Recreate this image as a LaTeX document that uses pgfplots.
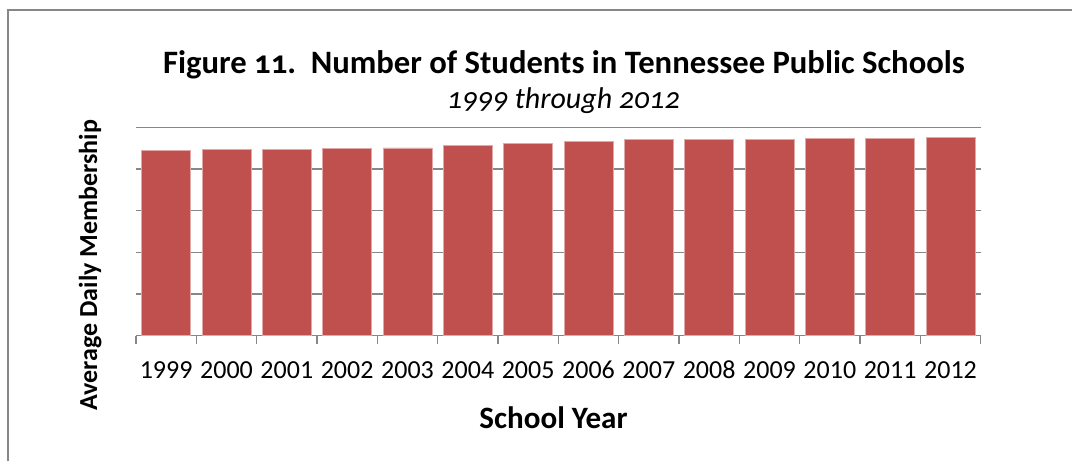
\documentclass[border=0pt]{standalone}
\usepackage{pgfplots}
\pgfplotsset{compat=1.18}
\usepackage{fontspec}
\setmainfont{Carlito}
\newfontfamily\titlefont[Numbers=OldStyle]{Carlito}
\definecolor{barred}{HTML}{C0504D}
\definecolor{baredge}{HTML}{E0A8A6}
\definecolor{gridgray}{HTML}{878787}
\pgfplotstableread{
x year value
0 1999 891000
1 2000 894000
2 2001 894000
3 2002 897000
4 2003 901000
5 2004 912000
6 2005 921000
7 2006 933000
8 2007 942000
9 2008 944000
10 2009 944000
11 2010 947000
12 2011 947000
13 2012 950000
}\datatable
\begin{document}
\begin{tikzpicture}
\begin{scope}[x=0.75pt,y=-0.75pt]
\path[use as bounding box] (0,0) rectangle (1072,461);
\draw[gridgray, line width=1pt] (8,461) -- (8,10) -- (1072,10);
\end{scope}
\begin{axis}[
  at={(102pt,-251.8pt)}, anchor=south west,
  scale only axis, width=633.5pt, height=156.3pt,
  xmin=-0.5, xmax=13.5, ymin=0, ymax=1000000,
  axis line style={draw=none},
  ytick={0,200000,400000,600000,800000,1000000},
  yticklabels={},
  scaled y ticks=false,
  ytick style={draw=none},
  ymajorgrids,
  grid style={gridgray, line width=0.9pt},
  xtick=data,
  xticklabels={1999,2000,2001,2002,2003,2004,2005,2006,2007,2008,2009,2010,2011,2012},
  major x tick style={draw=none},
  minor xtick={-0.5,0.5,...,13.5},
  minor x tick style={gridgray, line width=0.9pt},
  minor tick length=6pt,
  tick align=outside,
  xtick pos=bottom,
  xticklabel style={font=\fontsize{19.5}{20}\selectfont, anchor=base, yshift=-28pt},
  clip=false,
]
\addplot[ybar, bar width=0.81, fill=barred, draw=baredge, line width=0.5pt] table[x=x, y=value] {\datatable};
\end{axis}
\begin{scope}[x=0.75pt,y=-0.75pt]
\node[font=\titlefont\bfseries\fontsize{24.5}{26}\selectfont, anchor=base] at (564,73) {Figure 11.\ \ Number of Students in Tennessee Public Schools};
\node[font=\titlefont\itshape\fontsize{22.5}{24}\selectfont, anchor=base] at (563.5,108) {1999 through 2012};
\node[font=\bfseries\fontsize{23.3}{25}\selectfont, anchor=base] at (553.5,428) {School Year};
\node[font=\bfseries\fontsize{19.5}{20}\selectfont, anchor=base, rotate=90] at (97,265) {Average Daily Membership};
\end{scope}
\end{tikzpicture}
\end{document}
